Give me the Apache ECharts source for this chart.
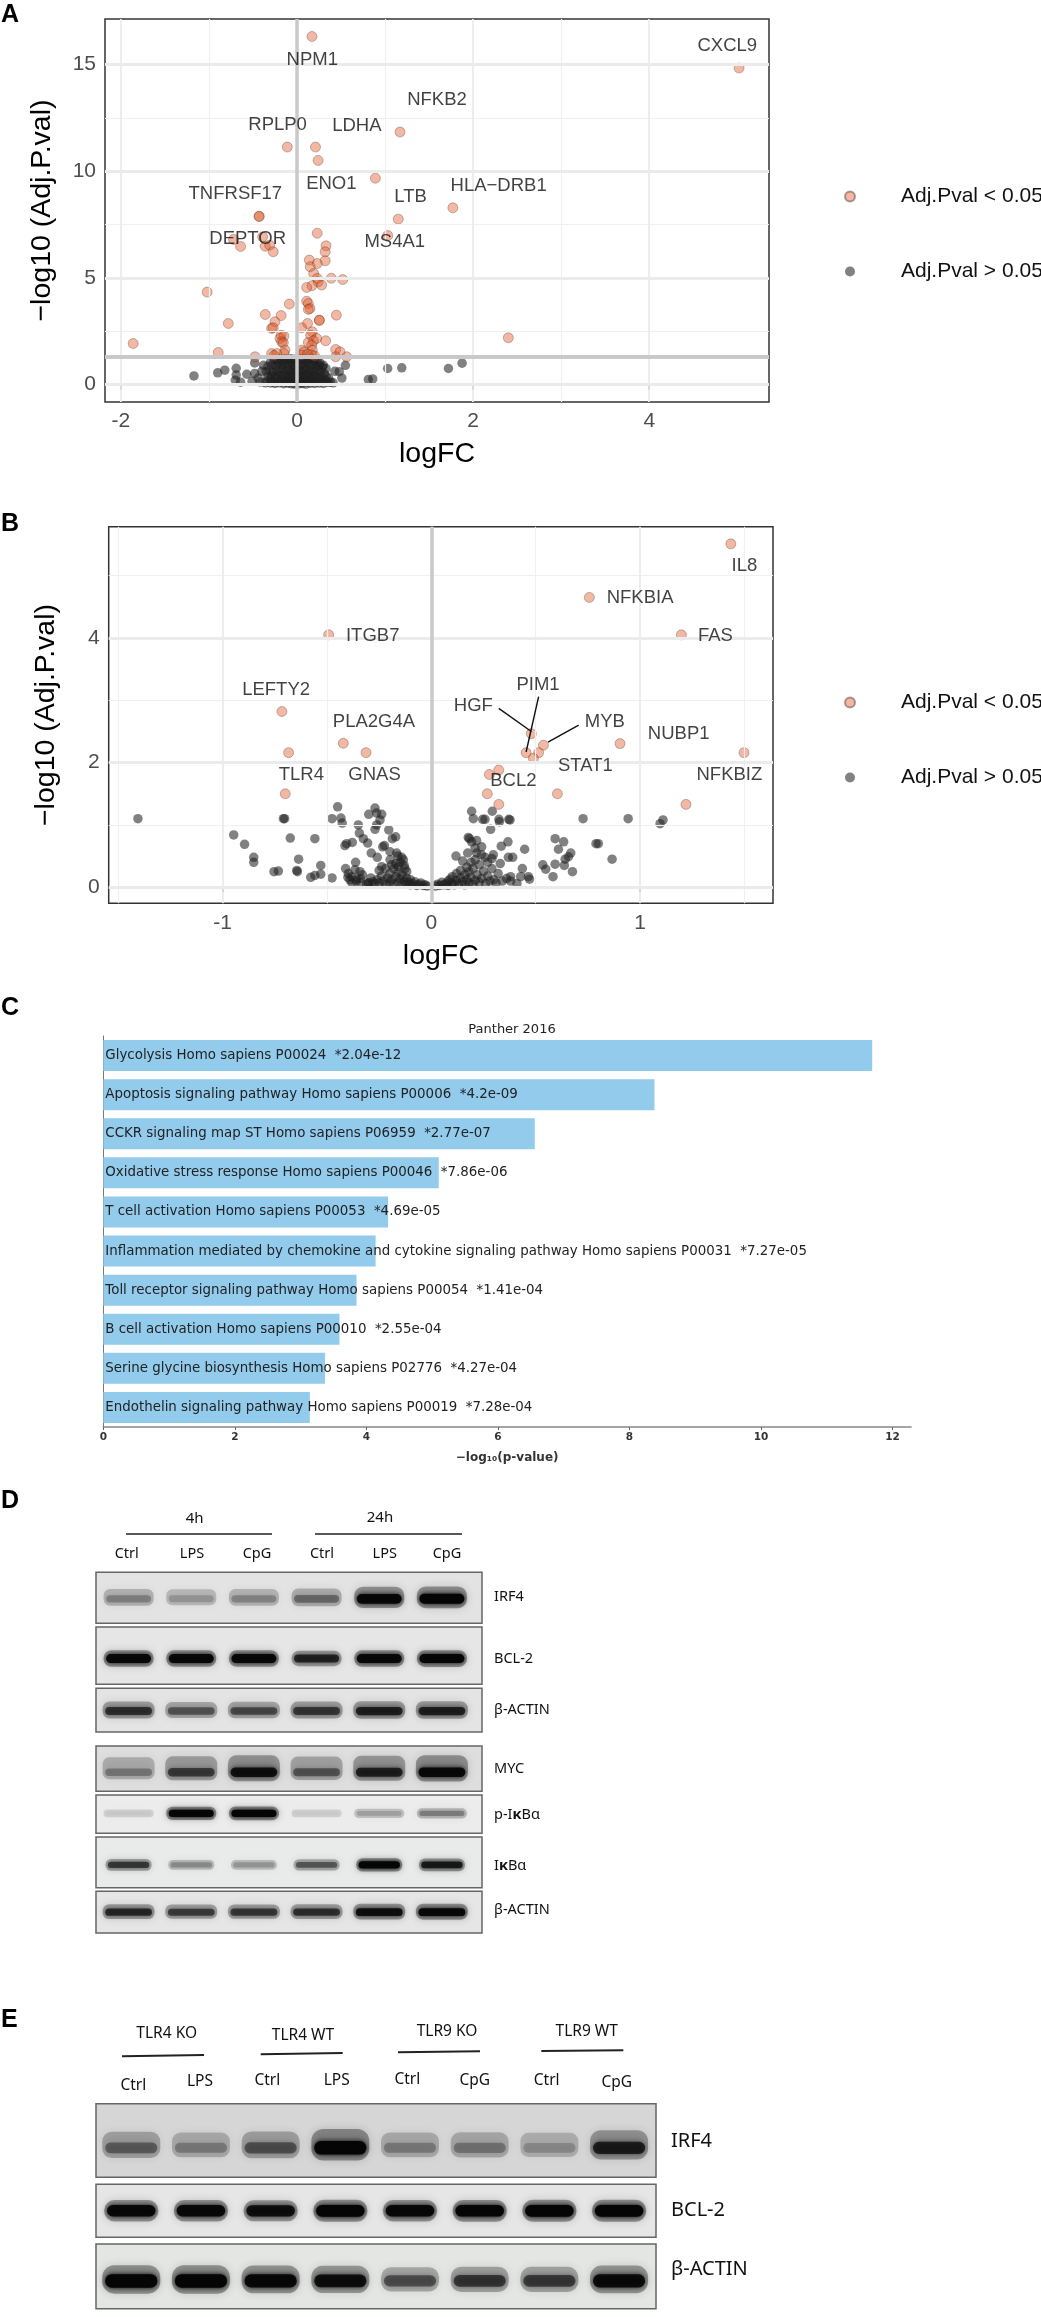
<!DOCTYPE html>
<html>
<head>
<meta charset="utf-8">
<title>Panels</title>
<script src="https://cdn.jsdelivr.net/npm/echarts@6/dist/echarts.min.js"></script>
<style>
html, body { margin: 0; padding: 0; background: #fff; }
#main { width: 1041px; height: 2317px; }
</style>
</head>
<body>
<div id="main"></div>
<script>
var myChart = echarts.init(document.getElementById('main'));

// panel A, [logFC, -log10 adj p]
var sigA = [
  [5.02,14.83],[0.17,16.31],[1.17,11.83],[-0.11,11.13],[0.21,11.13],[0.24,10.5],[0.89,9.67],[1.77,8.28],[1.15,7.75],
  [-0.43,7.89],[-0.43,7.87],[0.23,7.09],[1.03,6.98],[-0.72,6.8],[-0.64,6.47],[-0.39,6.92],[-0.36,6.48],[-0.31,6.53],
  [-0.27,6.22],[0.33,6.5],[0.32,6.22],[0.14,5.83],[0.32,5.8],[0.23,5.67],[0.15,5.52],[0.19,5.2],[0.39,4.98],[0.52,4.92],
  [0.23,4.97],[0.24,4.81],[0.28,4.66],[0.17,4.63],[0.11,4.55],[-1.02,4.33],[-0.087,3.77],[0.11,3.9],[0.129,3.8],[0.148,3.56],
  [0.129,3.52],[-0.36,3.28],[-0.18,3.23],[0.447,3.25],[0.254,3.02],[0.254,3.0],[-0.25,2.94],[-0.78,2.86],[0.12,2.86],
  [-0.288,2.63],[-0.27,2.66],[0.053,2.66],[0.174,2.47],[-0.18,2.31],[-0.148,2.27],[0.155,2.31],[-0.193,2.16],[0.223,2.16],
  [2.4,2.19],[-1.86,1.92],[0.326,2.05],[0.186,2.05],[-0.174,2.0],[-0.155,1.95],[0.129,1.97],[0.167,1.84],[-0.136,1.61],
  [0.053,1.61],[0.174,1.61],[0.44,1.64],[0.08,1.53],[0.489,1.53],[-0.894,1.5],[-0.148,1.45],[-0.288,1.45],[-0.23,1.45],
  [0.167,1.38],[0.05,1.38],[-0.477,1.3],[0.44,1.3],[0.564,1.3],[0.12,1.42],[-0.26,1.36],[0.2,1.34]
];
var nsA = [
  [-1.17,0.4],[-0.9,0.55],[-0.82,0.67],[-0.69,0.76],[-0.69,0.44],[-0.7,0.2],[-0.64,0.11],[-0.57,0.48],[-0.48,0.51],[-0.51,0.15],
  [-0.48,1.01],[-0.36,0.08],[1.03,0.75],[1.19,0.78],[1.72,0.75],[1.875,1.0],[0.81,0.23],[0.86,0.26],[0.51,0.3],[0.55,0.9],
  [0.43,0.62],[0.48,0.6],[0.3,0.9],[-0.44,0.3],[-0.4,0.62],[-0.38,0.9],[-0.42,0.12],[0.38,0.12],[0.41,0.08],[0.36,0.3],
  [-0.3,1.05],[-0.26,1.17],[-0.22,1.12],[-0.19,1.19],[-0.16,1.08],[-0.13,1.2],[-0.1,1.14],[-0.07,1.21],[-0.04,1.1],[-0.02,1.18],
  [0.02,1.2],[0.05,1.13],[0.08,1.22],[0.11,1.09],[0.14,1.18],[0.17,1.2],[0.2,1.1],[0.23,1.17],[0.26,1.02],
  [-0.33,0.85],[-0.28,0.92],[-0.24,0.88],[-0.21,0.97],[-0.17,0.9],[-0.14,0.95],[-0.11,0.86],[-0.08,0.98],[-0.05,0.91],[-0.03,0.84],
  [0.01,0.96],[0.04,0.88],[0.07,0.93],[0.1,0.85],[0.13,0.99],[0.16,0.9],[0.19,0.94],[0.22,0.84],[0.25,0.9],[0.29,0.82],[0.33,0.75],
  [-0.35,0.6],[-0.31,0.66],[-0.27,0.58],[-0.23,0.7],[-0.2,0.62],[-0.16,0.72],[-0.13,0.6],[-0.1,0.68],[-0.07,0.57],[-0.04,0.71],[-0.01,0.63],
  [0.02,0.7],[0.05,0.6],[0.08,0.66],[0.11,0.72],[0.14,0.58],[0.17,0.68],[0.2,0.6],[0.23,0.7],[0.27,0.6],[0.31,0.52],
  [-0.33,0.38],[-0.29,0.44],[-0.25,0.36],[-0.22,0.48],[-0.18,0.4],[-0.15,0.46],[-0.12,0.34],[-0.09,0.44],[-0.06,0.37],[-0.03,0.48],[0.0,0.4],
  [0.03,0.46],[0.06,0.35],[0.09,0.43],[0.12,0.49],[0.15,0.36],[0.18,0.44],[0.21,0.38],[0.25,0.46],[0.28,0.36],[0.33,0.4],
  [-0.34,0.18],[-0.3,0.24],[-0.26,0.14],[-0.23,0.26],[-0.19,0.17],[-0.16,0.24],[-0.13,0.12],[-0.1,0.22],[-0.07,0.16],[-0.04,0.25],[-0.01,0.15],
  [0.02,0.23],[0.05,0.13],[0.08,0.21],[0.11,0.27],[0.14,0.14],[0.17,0.22],[0.2,0.16],[0.24,0.24],[0.28,0.15],[0.32,0.2],
  [-0.3,0.07],[-0.25,0.05],[-0.2,0.08],[-0.15,0.04],[-0.1,0.06],[-0.06,0.03],[-0.02,0.02],[0.02,0.03],[0.06,0.05],[0.1,0.02],[0.15,0.06],[0.2,0.05],[0.25,0.07],[0.3,0.05],[0.35,0.1]
];
var genesA = ['CXCL9','NPM1','NFKB2','RPLP0','LDHA','ENO1','HLA\u2212DRB1','TNFRSF17','LTB','DEPTOR','MS4A1'];
var genePosA = [[4.886,15.89],[0.174,15.23],[1.59,13.33],[-0.22,12.16],[0.68,12.13],[0.39,9.41],[2.29,9.33],[-0.7,8.94],[1.29,8.8],[-0.56,6.83],[1.11,6.69]];
var xTicksA = [-2,0,2,4];
var xMinorA = [-1,1,3];
var yTicksA = [0,5,10,15];
var yMinorA = [2.5,7.5,12.5];
var cutoffA = 1.28;

// panel B
var sigB = [
  [1.435,5.51],[0.757,4.65],[-0.492,4.05],[1.198,4.05],[-0.716,2.82],[0.479,2.465],[-0.422,2.31],[0.904,2.305],[0.537,2.28],
  [-0.684,2.16],[-0.313,2.16],[0.454,2.16],[0.514,2.16],[1.498,2.16],[0.489,2.07],[0.323,1.88],[0.278,1.81],[-0.7,1.5],
  [0.268,1.5],[0.604,1.5],[0.323,1.33],[1.22,1.33]
];
var nsB = [
  [-1.406,1.1],[0.943,1.1],[1.11,1.08],[1.096,1.02],[0.8,0.7],[0.866,0.45],
  [-0.947,0.84],[-0.895,0.69],[-0.851,0.48],[-0.851,0.4],[-0.754,0.25],[-0.733,0.26],[-0.709,1.1],[-0.703,1.1],[-0.676,0.79],[-0.636,0.45],
  [-0.645,0.27],[-0.642,0.25],[-0.558,0.78],[-0.53,0.35],[-0.53,0.21],[-0.558,0.19],[-0.578,0.16],[-0.476,0.15],[-0.449,1.29],[-0.476,1.1],
  [-0.433,1.11],[-0.427,1.03],[-0.35,1.0],[-0.345,0.87],[-0.326,0.78],[-0.305,0.71],[-0.379,0.72],[-0.406,0.7],[-0.414,0.67],[-0.288,0.55],
  [-0.259,0.48],[-0.363,0.4],[-0.411,0.3],[-0.398,0.22],[-0.382,0.17],[-0.39,0.12],[-0.366,0.28],[-0.342,0.25],[-0.302,0.07],[-0.27,1.27],
  [-0.3,1.17],[-0.262,1.19],[-0.238,1.17],[-0.246,1.08],[-0.262,1.0],[-0.27,0.93],[-0.204,0.92],[-0.187,0.78],[-0.171,0.81],[-0.233,0.65],
  [-0.225,0.67],[-0.198,0.57],[-0.166,0.55],[-0.142,0.48],[-0.134,0.44],[-0.198,0.44],[-0.19,0.36],[-0.238,0.33],[-0.158,0.33],[-0.126,0.3],
  [-0.118,0.25],[-0.4,0.16],[-0.38,0.07],[-0.36,0.1],[-0.34,0.14],
  [-0.02,0.02],[-0.03,0.04],[-0.04,0.03],[-0.05,0.07],[-0.06,0.05],[-0.07,0.03],[-0.08,0.09],[-0.09,0.06],[-0.1,0.12],[-0.1,0.04],[-0.11,0.08],
  [-0.12,0.15],[-0.12,0.05],[-0.13,0.1],[-0.14,0.2],[-0.14,0.06],[-0.15,0.13],[-0.16,0.08],[-0.16,0.24],[-0.17,0.17],[-0.18,0.05],[-0.18,0.3],
  [-0.19,0.12],[-0.2,0.08],[-0.2,0.22],[-0.21,0.15],[-0.22,0.05],[-0.22,0.3],[-0.23,0.1],[-0.24,0.18],[-0.25,0.07],[-0.25,0.27],[-0.26,0.12],
  [-0.27,0.06],[-0.28,0.09],[-0.29,0.15],[-0.3,0.07],[-0.31,0.05],[-0.33,0.2],[-0.34,0.08],[-0.36,0.13],[-0.15,0.4],[-0.13,0.35],[-0.16,0.5],[-0.17,0.38],
  [0.193,1.22],[0.201,1.1],[0.246,1.09],[0.257,1.09],[0.292,1.22],[0.324,1.09],[0.326,1.05],[0.371,1.09],[0.377,1.08],[0.284,0.93],[0.182,0.78],[0.177,0.8],
  [0.193,0.73],[0.217,0.75],[0.241,0.65],[0.209,0.63],[0.297,0.52],[0.335,0.66],[0.367,0.73],[0.118,0.5],[0.174,0.55],[0.217,0.55],[0.257,0.48],[0.369,0.48],
  [0.39,0.48],[0.447,0.61],[0.436,0.3],[0.38,0.17],[0.38,0.1],[0.428,0.17],[0.465,0.17],[0.47,0.13],[0.593,0.78],[0.634,0.73],[0.609,0.61],[0.668,0.55],
  [0.657,0.49],[0.641,0.45],[0.637,0.35],[0.593,0.37],[0.534,0.36],[0.548,0.29],[0.583,0.17],[0.676,0.25],[0.727,1.1],[0.789,0.7],
  [0.02,0.02],[0.03,0.05],[0.04,0.03],[0.05,0.08],[0.06,0.04],[0.07,0.06],[0.08,0.1],[0.08,0.03],[0.09,0.13],[0.1,0.07],[0.1,0.17],[0.11,0.04],[0.12,0.11],
  [0.12,0.22],[0.13,0.06],[0.14,0.15],[0.14,0.27],[0.15,0.09],[0.16,0.2],[0.16,0.04],[0.17,0.32],[0.17,0.12],[0.18,0.25],[0.18,0.07],[0.19,0.4],[0.19,0.16],
  [0.2,0.05],[0.2,0.3],[0.21,0.11],[0.21,0.44],[0.22,0.2],[0.23,0.08],[0.23,0.36],[0.24,0.14],[0.25,0.26],[0.26,0.06],[0.27,0.18],[0.27,0.4],[0.28,0.1],
  [0.29,0.3],[0.3,0.12],[0.31,0.07],[0.32,0.22],[0.33,0.38],[0.34,0.1],[0.29,0.46],[0.24,0.52],[0.15,0.42],[0.36,0.14],[0.41,0.06]
];
var genesB = ['IL8','NFKBIA','ITGB7','FAS','PIM1','LEFTY2','HGF','MYB','PLA2G4A','NUBP1','STAT1','TLR4','GNAS','NFKBIZ','BCL2'];
var genePosB = [[1.5,5.15],[1.0,4.65],[-0.281,4.04],[1.361,4.04],[0.511,3.25],[-0.744,3.17],[0.201,2.91],[0.831,2.66],[-0.275,2.66],[1.185,2.46],[0.738,1.94],[-0.623,1.8],[-0.272,1.8],[1.428,1.8],[0.393,1.71]];
var repelB = [
  [[0.323,2.87],[0.479,2.5]],
  [[0.514,3.06],[0.454,2.17]],
  [[0.706,2.6],[0.559,2.33]]
];
var xTicksB = [-1,0,1];
var xMinorB = [-1.5,-0.5,0.5,1.5];
var yTicksB = [0,2,4];
var yMinorB = [1,3,5];

// panel C
var pathways = [
  'Glycolysis Homo sapiens P00024',
  'Apoptosis signaling pathway Homo sapiens P00006',
  'CCKR signaling map ST Homo sapiens P06959',
  'Oxidative stress response Homo sapiens P00046',
  'T cell activation Homo sapiens P00053',
  'Inflammation mediated by chemokine and cytokine signaling pathway Homo sapiens P00031',
  'Toll receptor signaling pathway Homo sapiens P00054',
  'B cell activation Homo sapiens P00010',
  'Serine glycine biosynthesis Homo sapiens P02776',
  'Endothelin signaling pathway Homo sapiens P00019'
];
var pvalText = ['2.04e-12','4.2e-09','2.77e-07','7.86e-06','4.69e-05','7.27e-05','1.41e-04','2.55e-04','4.27e-04','7.28e-04'];
var logP = [11.69,8.38,6.56,5.1,4.33,4.14,3.85,3.59,3.37,3.14];
var xTicksC = [0,2,4,6,8,10,12];

// blot lane intensities (0-1), read by eye
var irf4D = [0.42,0.33,0.4,0.52,0.95,1];
var bcl2D = [0.95,0.95,0.95,0.8,0.95,0.97];
var actinD1 = [0.75,0.6,0.65,0.72,0.82,0.82];
var mycD = [0.45,0.7,0.9,0.6,0.82,0.95];
var pikbaD = [0.08,0.97,1,0.06,0.3,0.45];
var ikbaD = [0.72,0.4,0.35,0.6,0.97,0.85];
var actinD2 = [0.78,0.7,0.72,0.75,0.9,0.95];
var irf4E = [0.55,0.42,0.6,1,0.42,0.45,0.35,0.82];
var bcl2E = [0.95,0.95,0.9,1,0.95,0.97,1,1];
var actinE = [1,1,0.95,0.9,0.62,0.72,0.7,0.92];

var plotFont = '"Liberation Sans", Arial, sans-serif';
var blotFont = '"Noto Sans", sans-serif';

var grids = [], xAxes = [], yAxes = [], series = [], texts = [];

function guideLines(idx, xMajor, xMinor, yMajor, yMinor, refX, refY) {
  function group(list, key, width, color) {
    return list.map(function (v) {
      var d = {lineStyle: {width: width, color: color, type: 'solid'}};
      d[key] = v;
      return d;
    });
  }
  series.push({
    type: 'scatter', xAxisIndex: idx, yAxisIndex: idx, data: [], z: 1, silent: true,
    markLine: {
      silent: true, symbol: 'none', label: {show: false}, animation: false,
      data: group(xMinor, 'xAxis', 1.2, '#f0f0f0')
        .concat(group(yMinor, 'yAxis', 1.2, '#f0f0f0'))
        .concat(group(xMajor, 'xAxis', 1.8, '#ebebeb'))
        .concat(group(yMajor, 'yAxis', 3, '#ebebeb'))
    }
  });
  // the grey cut-off lines sit over the points
  series.push({
    type: 'scatter', xAxisIndex: idx, yAxisIndex: idx, data: [], z: 6, silent: true,
    markLine: {
      silent: true, symbol: 'none', label: {show: false}, animation: false,
      data: group(refX, 'xAxis', 3.5, '#c9c9c9').concat(group(refY, 'yAxis', 4, '#c9c9c9'))
    }
  });
}

function volcano(idx, box, xr, yr, xTicks, yTicks, sig, ns, genes, genePos, gap) {
  grids.push({
    left: box[0], top: box[1], width: box[2] - box[0], height: box[3] - box[1],
    show: true, backgroundColor: '#fff', borderColor: '#333', borderWidth: 1.5, z: 0
  });
  function axis(name, r, ticks, nameGap) {
    return {
      type: 'value', gridIndex: idx, min: r[0], max: r[1], name: name, nameLocation: 'middle', nameGap: nameGap,
      nameTextStyle: {fontFamily: plotFont, fontSize: 28.5, color: '#000'},
      splitLine: {show: false},
      axisLine: {show: false},
      axisTick: {show: true, length: 5, customValues: ticks, lineStyle: {color: '#333', width: 2}},
      axisLabel: {show: true, customValues: ticks, margin: 9, fontFamily: plotFont, fontSize: 21, color: '#4d4d4d'}
    };
  }
  xAxes.push(axis('logFC', xr, xTicks, gap[0]));
  yAxes.push(axis('\u2212log10 (Adj.P.val)', yr, yTicks, gap[1]));
  series.push({
    name: 'Adj.Pval > 0.05', type: 'scatter', xAxisIndex: idx, yAxisIndex: idx, data: ns, symbolSize: 9.5, z: 3,
    itemStyle: {color: 'rgba(30,30,30,0.7)', borderWidth: 0}
  });
  series.push({
    name: 'Adj.Pval < 0.05', type: 'scatter', xAxisIndex: idx, yAxisIndex: idx, data: sig, symbolSize: 10, z: 4,
    itemStyle: {color: 'rgba(224,84,34,0.52)', borderColor: 'rgba(70,40,30,0.55)', borderWidth: 0.7}
  });
  series.push({
    type: 'scatter', xAxisIndex: idx, yAxisIndex: idx, symbolSize: 1, z: 7, silent: true,
    itemStyle: {color: 'rgba(0,0,0,0)'},
    label: {show: true, position: 'inside', formatter: '{b}', fontFamily: plotFont, fontSize: 18.5, color: '#111'},
    data: genes.map(function (g, i) { return {name: g, value: genePos[i]}; })
  });
}

volcano(0, [105,19,769,402], [-2.18,5.36], [-0.82,17.13], xTicksA, yTicksA, sigA, nsA, genesA, genePosA, [38,48]);
guideLines(0, xTicksA, xMinorA, yTicksA, yMinorA, [0], [cutoffA]);

volcano(1, [108.7,526.7,773,903.3], [-1.546,1.637], [-0.257,5.785], xTicksB, yTicksB, sigB, nsB, genesB, genePosB, [38,48]);
guideLines(1, xTicksB, xMinorB, yTicksB, yMinorB, [0], []);

repelB.forEach(function (seg) {
  series.push({
    type: 'line', xAxisIndex: 1, yAxisIndex: 1, data: seg, symbol: 'none', z: 7, silent: true,
    lineStyle: {color: '#111', width: 1.4}
  });
});

// panel C bars
grids.push({left: 103.3, top: 1036, width: 807.7, height: 391});
xAxes.push({
  type: 'value', gridIndex: 2, min: 0, max: 12.28, name: '\u2212log\u2081\u2080(p-value)', nameLocation: 'middle', nameGap: 25,
  nameTextStyle: {fontFamily: '"DejaVu Sans"', fontSize: 12, fontWeight: 'bold', color: '#333'},
  splitLine: {show: false},
  axisLine: {show: true, lineStyle: {color: '#888', width: 1.6}},
  axisTick: {show: true, length: 3, customValues: xTicksC, lineStyle: {color: '#666'}},
  axisLabel: {show: true, customValues: xTicksC, margin: 5, fontFamily: '"DejaVu Sans"', fontSize: 10.5, fontWeight: 'bold', color: '#333'}
});
yAxes.push({
  type: 'category', gridIndex: 2, data: pathways, inverse: true,
  axisLine: {show: true, lineStyle: {color: '#777', width: 1}},
  axisTick: {show: false}, axisLabel: {show: false}, splitLine: {show: false}
});
series.push({
  type: 'bar', xAxisIndex: 2, yAxisIndex: 2, data: logP, barWidth: 31, itemStyle: {color: '#93cbec'}, silent: true,
  label: {
    show: true, position: 'insideLeft', distance: 2, color: '#222', fontFamily: '"DejaVu Sans"', fontSize: 13.4,
    textBorderWidth: 0,
    formatter: function (p) { return p.name + '  *' + pvalText[p.dataIndex]; }
  }
});

// blots: every strip is a small grid, lanes on the hidden x axis
function drawBand(s) {
  return function (params, api) {
    var v = api.value(1);
    var c = api.coord([api.value(0), s.mid]);
    var w = s.w, h = s.h * (0.55 + 0.45 * v);
    var halo = 'rgba(40,40,40,' + (0.12 + 0.3 * v).toFixed(3) + ')';
    var core = 'rgba(5,5,5,' + Math.min(1, v * v * 0.75 + 0.28 * v).toFixed(3) + ')';
    return {
      type: 'group',
      children: [
        {
          type: 'rect',
          shape: {x: c[0] - w / 2, y: c[1] - h * 0.85 - s.smear, width: w, height: h * 1.7 + s.smear, r: h * 0.8},
          style: {fill: halo, shadowBlur: 9, shadowColor: halo}
        },
        {
          type: 'rect',
          shape: {x: c[0] - w * 0.45, y: c[1] - h * 0.45, width: w * 0.9, height: h * 0.9, r: h * 0.45},
          style: {fill: core, shadowBlur: 5, shadowColor: core}
        }
      ]
    };
  };
}

function blot(values, s, laneRange) {
  var idx = grids.length;
  grids.push({
    left: s.box[0], top: s.box[1], width: s.box[2] - s.box[0], height: s.box[3] - s.box[1],
    show: true, backgroundColor: s.bg, borderColor: '#666', borderWidth: 1.5
  });
  xAxes.push({type: 'value', gridIndex: idx, min: laneRange[0], max: laneRange[1], show: false});
  yAxes.push({type: 'value', gridIndex: idx, min: 0, max: 1, inverse: true, show: false});
  series.push({
    type: 'custom', xAxisIndex: idx, yAxisIndex: idx, silent: true, z: 2,
    renderItem: drawBand(s),
    data: values.map(function (v, i) { return [i, v]; })
  });
}

var lanesD = [-0.52,5.64];
var lanesE = [-0.506,7.53];
blot(irf4D,   {box: [96,1572.3,482,1623.3], bg: '#e3e3e3', mid: 0.52, w: 50, h: 11, smear: 3}, lanesD);
blot(bcl2D,   {box: [96,1627,482,1684.3],   bg: '#e6e6e6', mid: 0.55, w: 50, h: 10, smear: 0}, lanesD);
blot(actinD1, {box: [96,1688.3,482,1732],   bg: '#e4e4e4', mid: 0.52, w: 52, h: 10, smear: 2}, lanesD);
blot(mycD,    {box: [96,1746,482,1791.3],   bg: '#dedede', mid: 0.58, w: 52, h: 11, smear: 8}, lanesD);
blot(pikbaD,  {box: [96,1795,482,1833.3],   bg: '#ececec', mid: 0.48, w: 50, h: 8, smear: 0}, lanesD);
blot(ikbaD,   {box: [96,1837,482,1887.7],   bg: '#e9eaea', mid: 0.55, w: 46, h: 8, smear: 0}, lanesD);
blot(actinD2, {box: [96,1891.3,482,1933],   bg: '#e6e6e6', mid: 0.5, w: 52, h: 9, smear: 1}, lanesD);
blot(irf4E,   {box: [96,2103.7,656,2177.3], bg: '#d6d6d6', mid: 0.6, w: 58, h: 15, smear: 6}, lanesE);
blot(bcl2E,   {box: [96,2184.3,656,2237.3], bg: '#e6e6e6', mid: 0.5, w: 54, h: 13, smear: 0}, lanesE);
blot(actinE,  {box: [96,2244,656,2308.7],   bg: '#e4e6e4', mid: 0.57, w: 58, h: 15, smear: 3}, lanesE);

// text and lines that are not tied to an axis
function label(str, x, y, size, opt) {
  opt = opt || {};
  texts.push({
    type: 'text', x: x, y: y, silent: true,
    style: {
      text: str, fontFamily: opt.font || blotFont, fontSize: size, fontWeight: opt.weight || 'normal',
      fill: opt.color || '#111', align: opt.align || 'center', verticalAlign: 'middle', rich: opt.rich
    }
  });
}
function rule(x1, y1, x2, y2, width) {
  texts.push({type: 'line', silent: true, shape: {x1: x1, y1: y1, x2: x2, y2: y2}, style: {stroke: '#222', lineWidth: width}});
}

var panelLetters = [['A',15],['B',524],['C',1008],['D',1501],['E',2020]];
panelLetters.forEach(function (p) {
  label(p[0], 1, p[1], 25, {font: plotFont, weight: 'bold', align: 'left', color: '#000'});
});

var kappa = {k: {fontFamily: blotFont, fontSize: 14.5, fontWeight: 'bold', fill: '#111'}};
var stripNamesD = [['IRF4',1597],['BCL-2',1659],['\u03b2-ACTIN',1710],['MYC',1769],['p-I{k|\u03ba}B\u03b1',1815],['I{k|\u03ba}B\u03b1',1866],['\u03b2-ACTIN',1910]];
stripNamesD.forEach(function (n) { label(n[0], 494, n[1], 14.5, {align: 'left', rich: kappa}); });
var stripNamesE = [['IRF4',2141.7],['BCL-2',2210],['\u03b2-ACTIN',2269]];
stripNamesE.forEach(function (n) { label(n[0], 671, n[1], 20, {align: 'left'}); });

label('4h', 194.7, 1519, 15);
label('24h', 380, 1518, 15);
rule(126,1534,272,1534,1.5);
rule(315,1534,462,1534,1.5);
var lanesTextD = [['Ctrl',126.7],['LPS',192],['CpG',257],['Ctrl',322],['LPS',384.7],['CpG',447]];
lanesTextD.forEach(function (n) { label(n[0], n[1], 1554, 14.5); });

var groupsE = [['TLR4 KO',166.7,2034],['TLR4 WT',303,2035.7],['TLR9 KO',447,2032],['TLR9 WT',586.7,2032]];
groupsE.forEach(function (n) { label(n[0], n[1], n[2], 15.5); });
rule(122,2056.3,204,2055,2);
rule(260.7,2054.3,342.7,2053,2);
rule(398,2052.3,480,2051.3,2);
rule(541.3,2051,623.3,2050.3,2);
var lanesTextE = [['Ctrl',133.3,2085.7],['LPS',200,2081.7],['Ctrl',267.3,2080.7],['LPS',336.7,2080.7],['Ctrl',407.3,2080],['CpG',474.7,2080.7],['Ctrl',546.7,2080.7],['CpG',616.7,2082.3]];
lanesTextE.forEach(function (n) { label(n[0], n[1], n[2], 15.5); });

function legendAt(top) {
  return {
    left: 839, top: top, orient: 'vertical', selectedMode: false, itemGap: 54, itemWidth: 10, itemHeight: 10, icon: 'circle',
    data: ['Adj.Pval < 0.05', 'Adj.Pval > 0.05'],
    textStyle: {fontFamily: plotFont, fontSize: 21, color: '#111', padding: [0,0,0,41]}
  };
}

var option = {
  animation: false,
  backgroundColor: '#fff',
  title: {
    text: 'Panther 2016', left: 507, top: 1018, textAlign: 'center',
    textStyle: {fontFamily: '"DejaVu Sans"', fontSize: 13, fontWeight: 'normal', color: '#222'}
  },
  legend: [legendAt(181), legendAt(687)],
  grid: grids,
  xAxis: xAxes,
  yAxis: yAxes,
  series: series,
  graphic: {elements: texts}
};

option && myChart.setOption(option);
</script>
</body>
</html>
